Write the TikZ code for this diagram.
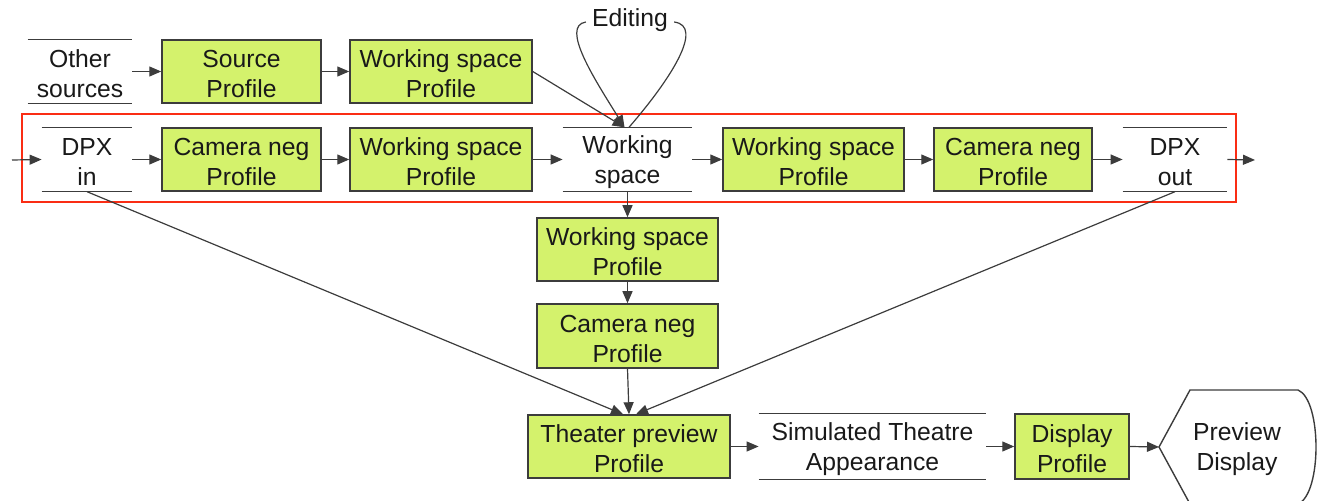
\documentclass[tikz,border=0pt]{standalone}
\usepackage{fontspec}
\setmainfont{Liberation Sans}
\usetikzlibrary{arrows.meta,calc}
\definecolor{profilegreen}{RGB}{212,242,108}
\definecolor{edgegray}{RGB}{60,60,60}
\definecolor{frameRed}{RGB}{250,45,20}
\definecolor{inkblack}{RGB}{25,25,25}
\begin{document}
\begin{tikzpicture}[x=0.5pt,y=-0.5pt,
  font=\fontsize{12.35}{15}\selectfont,
  every node/.style={text=inkblack, align=center, inner sep=0pt},
  txt/.style={label={[yshift=-1.3pt]center:#1}},
  profile/.style={draw=edgegray, line width=0.75pt, fill=profilegreen,
    minimum height=31.5pt},
  store/.style={minimum height=31.8pt},
  storeline/.style={draw=edgegray, line width=0.7pt},
  conn/.style={draw=inkblack!85, line width=0.6pt,
    -{Triangle[length=6pt,width=5pt]}},
  plain/.style={draw=inkblack!85, line width=0.6pt}
]
\useasboundingbox (0,0) rectangle (1317,501);
\clip (0,0) rectangle (1317,501);

% top row: other sources
\node[store, minimum width=52pt, txt={Other\\sources}] (other) at (80,71.5) {};
\node[profile, minimum width=79.5pt, txt={Source\\Profile}] (src) at (241.5,71.5) {};
\node[profile, minimum width=91pt, txt={Working space\\Profile}] (wsp1) at (441,71.5) {};

% main row
\node[store, minimum width=45pt, txt={DPX\\in}] (dpxin) at (87,159.5) {};
\node[profile, minimum width=79.5pt, txt={Camera neg\\Profile}] (cam1) at (241.5,159.5) {};
\node[profile, minimum width=91pt, txt={Working space\\Profile}] (wsp2) at (441,159.5) {};
\node[store, minimum width=64.5pt, txt={Working\\space}] (ws) at (627.5,159.5) {};
\node[profile, minimum width=90.5pt, txt={Working space\\Profile}] (wsp3) at (813.5,159.5) {};
\node[profile, minimum width=79pt, txt={Camera neg\\Profile}] (cam2) at (1013,159.5) {};
\node[store, minimum width=52pt, txt={DPX\\out}] (dpxout) at (1175,159.5) {};
\coordinate (srcin) at (12,160);
\coordinate (sinkout) at (1255,160);

% preview branch
\node[profile, minimum width=90.5pt, txt={Working space\\Profile}] (wsp4) at (627.5,249.5) {};
\node[profile, minimum width=90.5pt, minimum height=32pt, txt={Camera neg\\Profile}] (cam3) at (627.5,336) {};
\node[profile, minimum width=101pt, txt={Theater preview\\Profile}] (theater) at (629,446.5) {};
\node[store, minimum width=113.5pt, minimum height=32.5pt, txt={Simulated Theatre\\Appearance}] (sim) at (872.5,446.5) {};
\node[profile, minimum width=57pt, minimum height=32.5pt, txt={Display\\Profile}] (disp) at (1072,446.5) {};

% display device shape
\coordinate (prevtip) at (1159,447);
\draw[storeline] (prevtip) -- (1190,390) -- (1298,390)
  .. controls (1322,400) and (1322,494) .. (1298,504) -- (1190,504) -- cycle;
\node[txt={Preview\\Display}] (prev) at (1237,447) {};

% editing loop label
\node[inner xsep=3pt] (edit) at (630,20) {Editing};

% rules above and below data stores
\foreach \n in {other,dpxin,ws,dpxout,sim}{
  \draw[storeline] (\n.north west) -- (\n.north east);
  \draw[storeline] (\n.south west) -- (\n.south east);
}

% frame around the film pipeline
\draw[frameRed, line width=0.6pt] (22,114) rectangle (1236,202);

% connectors
\draw[conn] (other) -- (src);
\draw[conn] (src) -- (wsp1);
\draw[conn] (wsp1.east) -- ($(ws.north)+(-3,0)$);

\draw[conn] (srcin) -- (dpxin.west);
\draw[conn] (dpxin) -- (cam1);
\draw[conn] (cam1) -- (wsp2);
\draw[conn] (wsp2) -- (ws);
\draw[conn] (ws) -- (wsp3);
\draw[conn] (wsp3) -- (cam2);
\draw[conn] (cam2) -- (dpxout);
\draw[conn] (dpxout.east) -- (sinkout);

\draw[conn] (ws.south) -- (wsp4.north);
\draw[conn] (wsp4.south) -- (cam3.north);
\draw[conn] (cam3.south) -- (theater.north);
\draw[conn] (dpxin.south) -- ($(theater.north)+(-6,0)$);
\draw[conn] (dpxout.south) -- ($(theater.north)+(7,0)$);

\draw[conn] (theater) -- (sim);
\draw[conn] (sim) -- (disp);
\draw[conn] (disp.east) -- (prevtip);

% editing loop
\draw[plain] ($(ws.north)+(1.5,0)$) .. controls (670,80) and (705,26) .. ($(edit.east)+(0,2)$);
\draw[conn] ($(edit.west)+(0,2)$) .. controls (560,26) and (595,80) .. ($(ws.north)+(-3,0)$);
\end{tikzpicture}
\end{document}
